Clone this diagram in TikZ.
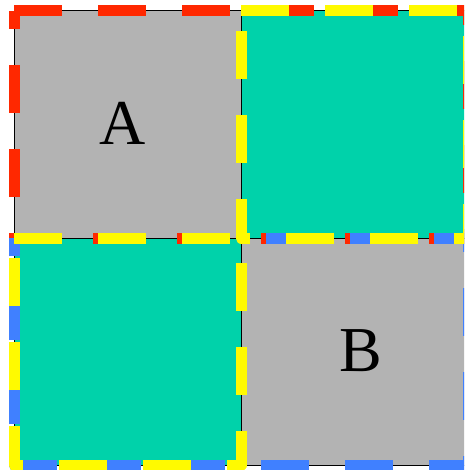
\documentclass[tikz,border=0pt]{standalone}
\usepackage{fontspec}
\setmainfont{Liberation Serif}
\usepackage{tikz}
\usetikzlibrary{positioning}
\definecolor{cellgray}{RGB}{179,179,179}
\definecolor{cellteal}{RGB}{0,210,170}
\definecolor{redline}{RGB}{255,40,0}
\definecolor{blueline}{RGB}{64,128,255}
\definecolor{yellowline}{RGB}{255,250,0}
\tikzset{
  cell/.style={draw=black,line width=1pt,minimum size=227pt,inner sep=0pt,outer sep=0pt},
  group/.style={line width=11pt,line join=round,dash pattern=on 48pt off 36pt}
}

\begin{document}
\begin{tikzpicture}[x=1pt,y=-1pt]
 \useasboundingbox (0,0) rectangle (464,470);
 \clip (0,0) rectangle (464,470);
 % cells
 \node[cell,fill=cellgray] (qa) at (127.5,124.5){};
 \node[cell,fill=cellteal,right=0pt of qa] (qtr){};
 \node[cell,fill=cellteal,below=0pt of qa] (qbl){};
 \node[cell,fill=cellgray,below=0pt of qtr] (qb){};
 \node[font=\fontsize{64}{64}\selectfont] (la) at (122.5,123){A};
 \node[font=\fontsize{64}{64}\selectfont] (lb) at (361,350.5){B};
 % rows
 \draw[group,redline](qa.north west)--(qtr.north east)--(qtr.south east)--(qa.south west)--cycle;
 \draw[group,blueline](qbl.north west)--(qb.north east)--(qb.south east)--(qbl.south west)--cycle;
 % diagonal
 \foreach \q in {qtr,qbl}{
   \draw[group,yellowline](\q.north west)--(\q.north east)--(\q.south east)--(\q.south west)--cycle;
 }
\end{tikzpicture}
\end{document}
